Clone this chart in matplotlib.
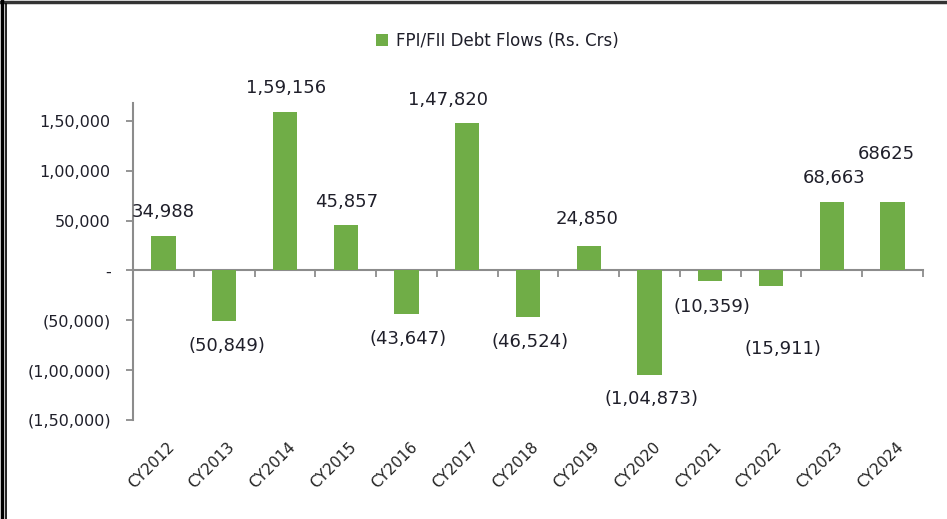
import numpy as np
import matplotlib
matplotlib.use('Agg')
from matplotlib import pyplot as plt
from matplotlib.lines import Line2D
from matplotlib.patches import Patch

years = ['CY2012', 'CY2013', 'CY2014', 'CY2015', 'CY2016', 'CY2017', 'CY2018',
         'CY2019', 'CY2020', 'CY2021', 'CY2022', 'CY2023', 'CY2024']
flows = [34988, -50849, 159156, 45857, -43647, 147820, -46524,
         24850, -104873, -10359, -15911, 68663, 68625]
value_labels = ['34,988', '(50,849)', '1,59,156', '45,857', '(43,647)', '1,47,820', '(46,524)',
                '24,850', '(1,04,873)', '(10,359)', '(15,911)', '68,663', '68625']
ytick_vals = [150000, 100000, 50000, 0, -50000, -100000, -150000]
ytick_text = ['1,50,000', '1,00,000', '50,000', '-', '(50,000)', '(1,00,000)', '(1,50,000)']

# where each data label sits (x shift in categories, y in data units), as placed in the source
label_dx = [0.0, 0.04, 0.02, 0.01, 0.03, -0.31, 0.04, -0.03, 0.04, 0.03, 0.2, 0.04, -0.11]
label_y = [59000, -76000, 183000, 69000, -69000, 171000, -72000,
           52000, -129000, -37000, -79000, 93000, 117000]

plt.rcParams['font.family'] = ['DejaVu Sans']
green = '#70AD47'
axis_gray = '#8c8c8c'
txt = '#1f1f2a'

fig = plt.figure(figsize=(9.47, 5.19), dpi=100)
ax = fig.add_axes([133/947, 1-420/519, (923-133)/947, (420-103)/519])

x = np.arange(len(years))
ax.bar(x, flows, width=0.4, color=green, zorder=3)

ax.set_xlim(-0.5, len(years) - 0.5)
ax.set_ylim(-150000, 168000)

for s in ['top', 'right']:
    ax.spines[s].set_visible(False)
ax.spines['bottom'].set_position(('data', 0))
ax.spines['bottom'].set_color(axis_gray)
ax.spines['left'].set_color(axis_gray)
ax.spines['bottom'].set_linewidth(1.5)
ax.spines['left'].set_linewidth(1.5)

ax.set_xticks(np.arange(-0.5, len(years), 1.0))
ax.set_xticklabels([])
ax.tick_params(axis='x', direction='out', length=5, width=1.3, color=axis_gray)
ax.set_yticks(ytick_vals)
ax.set_yticklabels(ytick_text, fontsize=11.5, color=txt)
ax.tick_params(axis='y', direction='out', length=5, width=1.3, color=axis_gray, pad=11)

for i, yr in enumerate(years):
    ax.text(i + 0.05, -0.06, yr, transform=ax.get_xaxis_transform(), rotation=45,
            ha='right', va='top', rotation_mode='anchor', fontsize=11, color='#222222')

for i, lab in enumerate(value_labels):
    ax.text(i + label_dx[i], label_y[i], lab, ha='center', va='center',
            fontsize=13, color=txt, clip_on=False)

handle = Patch(facecolor=green, edgecolor='none')
fig.legend([handle], ['FPI/FII Debt Flows (Rs. Crs)'], loc='center',
           bbox_to_anchor=(497/947, 1-41/519), frameon=False, fontsize=12,
           handlelength=0.75, handleheight=0.75, handletextpad=0.45, labelcolor=txt)

# outer frame of the pasted chart
fig.add_artist(Line2D([0, 1], [1-2/519, 1-2/519], transform=fig.transFigure, color='#333333', lw=2.5))
fig.add_artist(Line2D([1.5/947, 1.5/947], [0, 1], transform=fig.transFigure, color='black', lw=2.5))
fig.add_artist(Line2D([6/947, 6/947], [0, 1-4/519], transform=fig.transFigure, color='black', lw=1.2))

plt.savefig('out.png', dpi=100)
